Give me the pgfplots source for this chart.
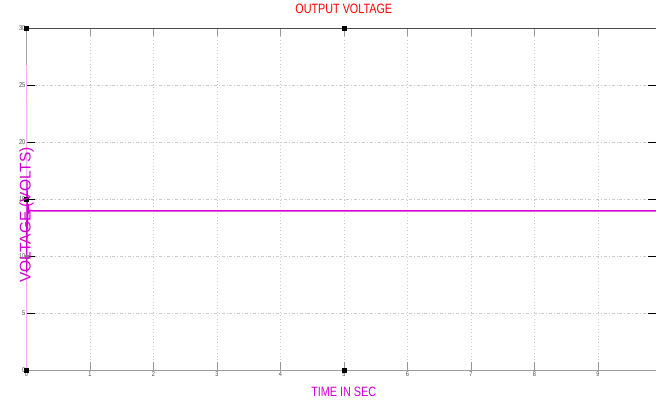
\documentclass[border=0pt]{standalone}
\usepackage{fontspec}
\setmainfont{Liberation Sans}
\newfontfamily\narrow[FakeStretch=0.8]{Liberation Sans}
\usepackage{pgfplots}
\pgfplotsset{compat=1.18}
\definecolor{mag}{RGB}{210,0,210}
\definecolor{lpink}{RGB}{242,180,242}
\begin{document}
\begin{tikzpicture}
\begin{axis}[
 scale only axis, width=629.5pt, height=342pt,
 xmin=0, xmax=9.913, ymin=0, ymax=30,
 xtick={0,...,9}, ytick={0,5,...,30},
 axis line style={draw=none},
 grid=major, grid style={gray!40, line width=0.7pt},
 every axis x grid/.style={dash pattern=on 0.8pt off 2.6pt},
 every axis y grid/.style={dash pattern=on 3pt off 2pt on 0.8pt off 2pt},
 tick align=inside,
 major tick length=8pt,
 xtick style={gray!80, line width=1pt},
 ytick style={black, line width=0.8pt},
 ticklabel style={font=\narrow\fontsize{7}{7}\selectfont, text=gray!60!black, inner sep=1pt},
 /pgf/number format/assume math mode=true,
 title={\narrow\fontsize{13.5}{14}\selectfont OUTPUT VOLTAGE},
 title style={text=red, at={(axis description cs:0.504,1)}, anchor=center, yshift=13.5pt},
 xlabel={\narrow\fontsize{13.5}{14}\selectfont TIME IN SEC},
 xlabel style={text=mag, at={(axis description cs:0.504,0)}, anchor=center, yshift=-21.5pt},
 ylabel={\fontsize{15.5}{16}\selectfont VOLTAGE (VOLTS)},
 ylabel style={text=mag, at={(axis description cs:0,0.48)}, anchor=center, xshift=-8.5pt},
 clip=false,
]
\draw[gray!60!black, line width=0.8pt] (rel axis cs:0,1) -- (rel axis cs:1,1);
\draw[gray!75, line width=1.4pt] (rel axis cs:0,0) -- (rel axis cs:1,0);
\draw[gray!70, line width=0.8pt] (rel axis cs:0,0) -- (rel axis cs:0,1);
\addplot[lpink, line width=1.2pt] coordinates {(0,0) (0.002,26.8) (0.004,8.6)};
\addplot[mag, line width=1.3pt] coordinates {
 (0.004,8.6) (0.008,16.6) (0.015,12.4) (0.025,14.6) (0.04,13.9) (0.06,14.05) (0.1,14.0) (9.913,14.0)};
\addplot[only marks, mark=square*, mark size=1.8pt, black] coordinates {(0,30) (5,30) (0,0) (5,0) (0,15)};
\addplot[only marks, mark=square*, mark size=1.6pt, gray] coordinates {(0,10)};
\coordinate (ll) at (rel axis cs:0,0);
\coordinate (ur) at (rel axis cs:1,1);
\end{axis}
\pgfresetboundingbox
\path[use as bounding box] ([xshift=-26.5pt,yshift=-30.5pt]ll) rectangle ([yshift=28.5pt]ur);
\end{tikzpicture}
\end{document}
